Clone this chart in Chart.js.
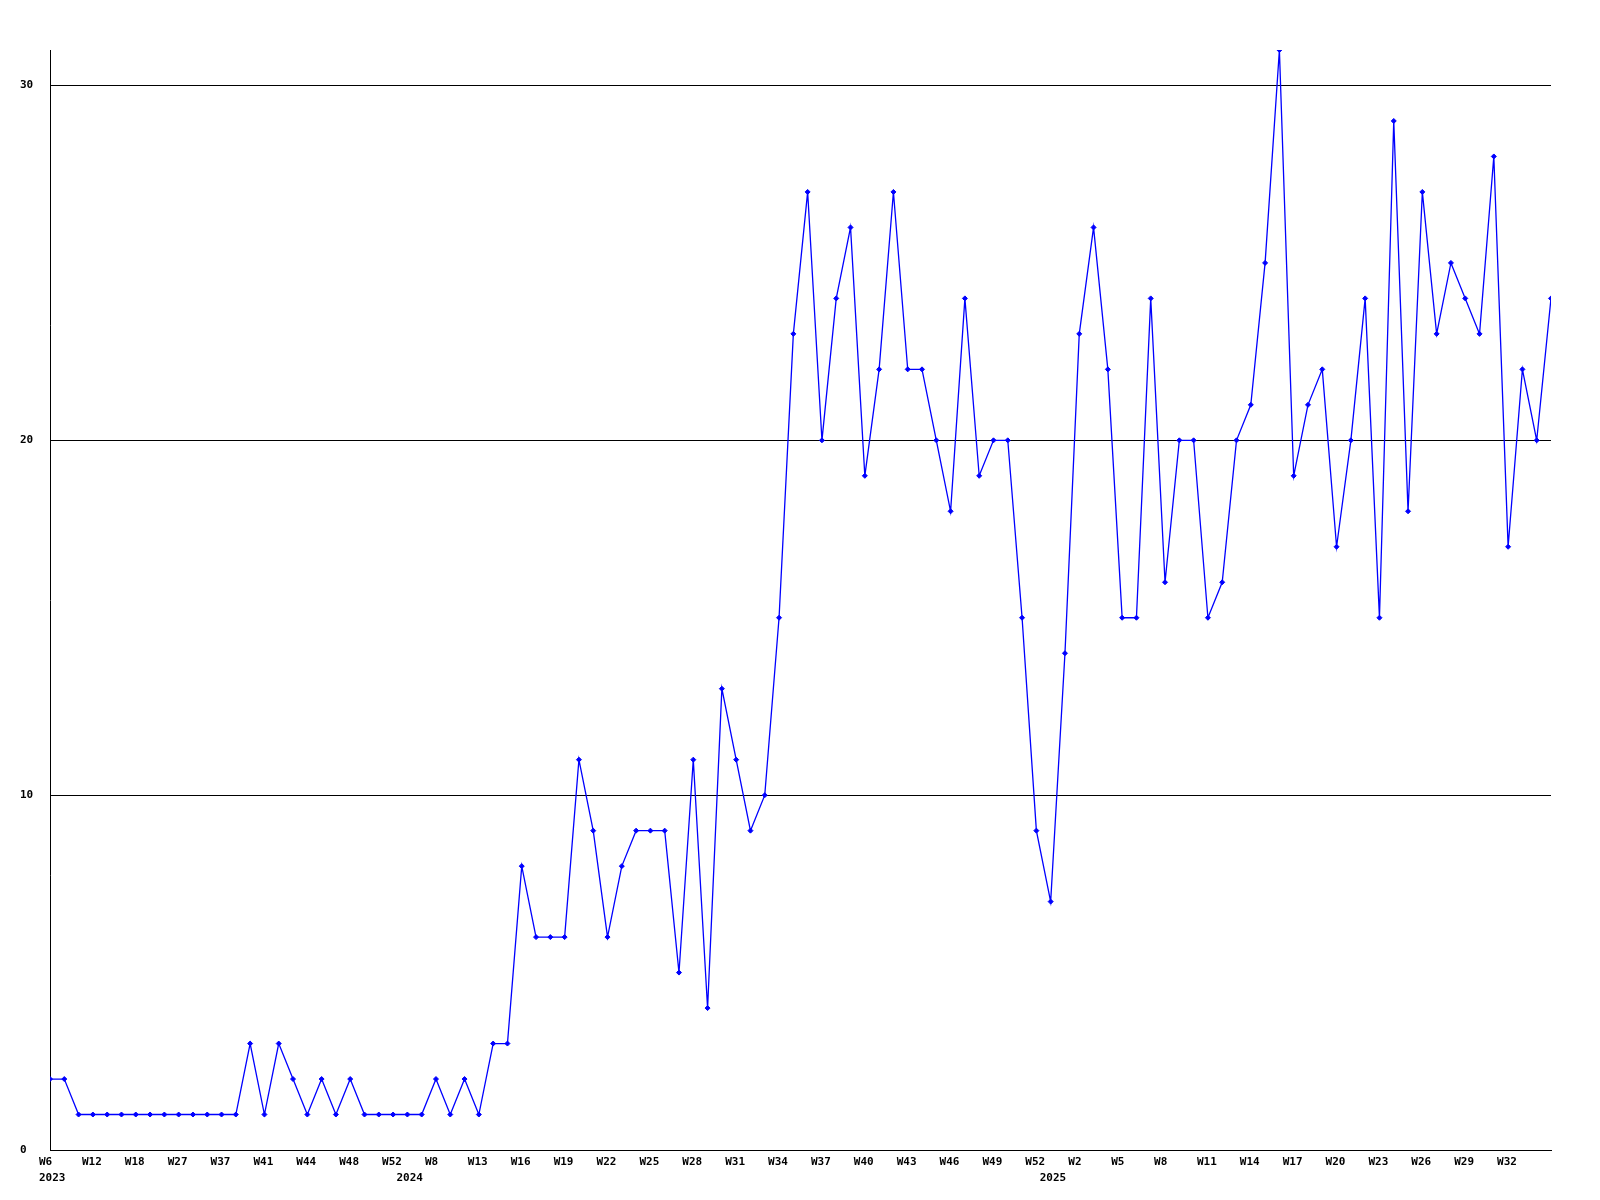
<!DOCTYPE html>
<html>
<head>
<meta charset="utf-8">
<script src="https://cdn.jsdelivr.net/npm/chart.js@4/dist/chart.umd.min.js"></script>
<style>
  html, body { margin: 0; padding: 0; background: #ffffff; }
  #wrap { width: 1600px; height: 1200px; }
</style>
</head>
<body>
<div id="wrap"><canvas id="c" width="1600" height="1200"></canvas></div>
<script>
// ---- data ----
const weeks = [
  'W6','W8','W10','W12','W14','W16','W18','W21','W24','W27','W31','W34','W37','W38','W40','W41','W42','W43','W44','W45','W47','W48','W49','W51','W52',
  'W2','W5','W8','W10','W12','W13','W14','W15','W16','W17','W18','W19','W20','W21','W22','W23','W24','W25','W26','W27','W28','W29','W30','W31','W32','W33','W34','W35','W36','W37','W38','W39','W40','W41','W42','W43','W44','W45','W46','W47','W48','W49','W50','W51','W52',
  'W53','W1','W2','W3','W4','W5','W6','W7','W8','W9','W10','W11','W12','W13','W14','W15','W16','W17','W18','W19','W20','W21','W22','W23','W24','W25','W26','W27','W28','W29','W30','W31','W32','W33','W34','W35'
];
const values = [
  2,2,1,1,1,1,1,1,1,1,1,1,1,1,3,1,3,2,1,2,1,2,1,1,1,
  1,1,2,1,2,1,3,3,8,6,6,6,11,9,6,8,9,9,9,5,11,4,13,11,9,10,15,23,27,20,24,26,19,22,27,22,22,20,18,24,19,20,20,15,9,
  7,14,23,26,22,15,15,24,16,20,20,15,16,20,21,25,31,19,21,22,17,20,24,15,29,18,27,23,25,24,23,28,17,22,20,24
];
const yearIndex = [0, 25, 70];
const yearText  = ['2023', '2024', '2025'];
const weekLabelEvery = 3;
const yTicks = [0, 10, 20, 30];

const FONT = { family: '"DejaVu Sans Mono", "Liberation Mono", monospace', size: 11, weight: 'bold', lineHeight: 1.38 };

const points = values.map((v, i) => ({ x: i, y: v }));

function hasWeekLabel(i) {
  return i % weekLabelEvery === 0 && i + weekLabelEvery <= values.length;
}

new Chart(document.getElementById('c'), {
  type: 'line',
  data: {
    datasets: [{
      data: points,
      borderColor: '#0000ff',
      backgroundColor: '#0000ff',
      borderWidth: 1.3,
      tension: 0,
      pointStyle: 'rectRot',
      pointRadius: 2.5,
      pointBorderWidth: 1,
      pointBorderColor: '#0000ff',
      pointBackgroundColor: '#0000ff',
      pointHoverRadius: 2.5
    }]
  },
  options: {
    responsive: false,
    animation: false,
    events: [],
    layout: { padding: { left: 20, right: 49, top: 50, bottom: 0 } },
    plugins: { legend: { display: false }, tooltip: { enabled: false } },
    scales: {
      x: {
        type: 'linear',
        min: 0,
        max: values.length - 1,
        afterBuildTicks: (scale) => {
          const t = [];
          for (let i = 0; i < values.length; i++) {
            if (hasWeekLabel(i) || yearIndex.includes(i)) t.push({ value: i });
          }
          scale.ticks = t;
        },
        afterFit: (scale) => { scale.height = 50; },
        ticks: {
          autoSkip: false,
          maxRotation: 0,
          minRotation: 0,
          align: 'start',
          labelOffset: -11,
          padding: 5,
          color: '#000000',
          font: FONT,
          callback: (v) => {
            const i = Math.round(v);
            const wk = hasWeekLabel(i) ? weeks[i] : '';
            const yi = yearIndex.indexOf(i);
            return yi >= 0 ? [wk, yearText[yi]] : wk;
          }
        },
        grid: { drawOnChartArea: false, drawTicks: false },
        border: { display: true, color: '#000000', width: 1 }
      },
      y: {
        type: 'linear',
        min: 0,
        max: 31,
        afterBuildTicks: (scale) => { scale.ticks = yTicks.map(v => ({ value: v })); },
        afterFit: (scale) => { scale.width = 30; },
        ticks: {
          crossAlign: 'far',
          color: '#000000',
          font: FONT,
          padding: 0
        },
        grid: { color: '#000000', lineWidth: 1, drawTicks: false },
        border: { display: true, color: '#000000', width: 1 }
      }
    }
  }
});
</script>
</body>
</html>
